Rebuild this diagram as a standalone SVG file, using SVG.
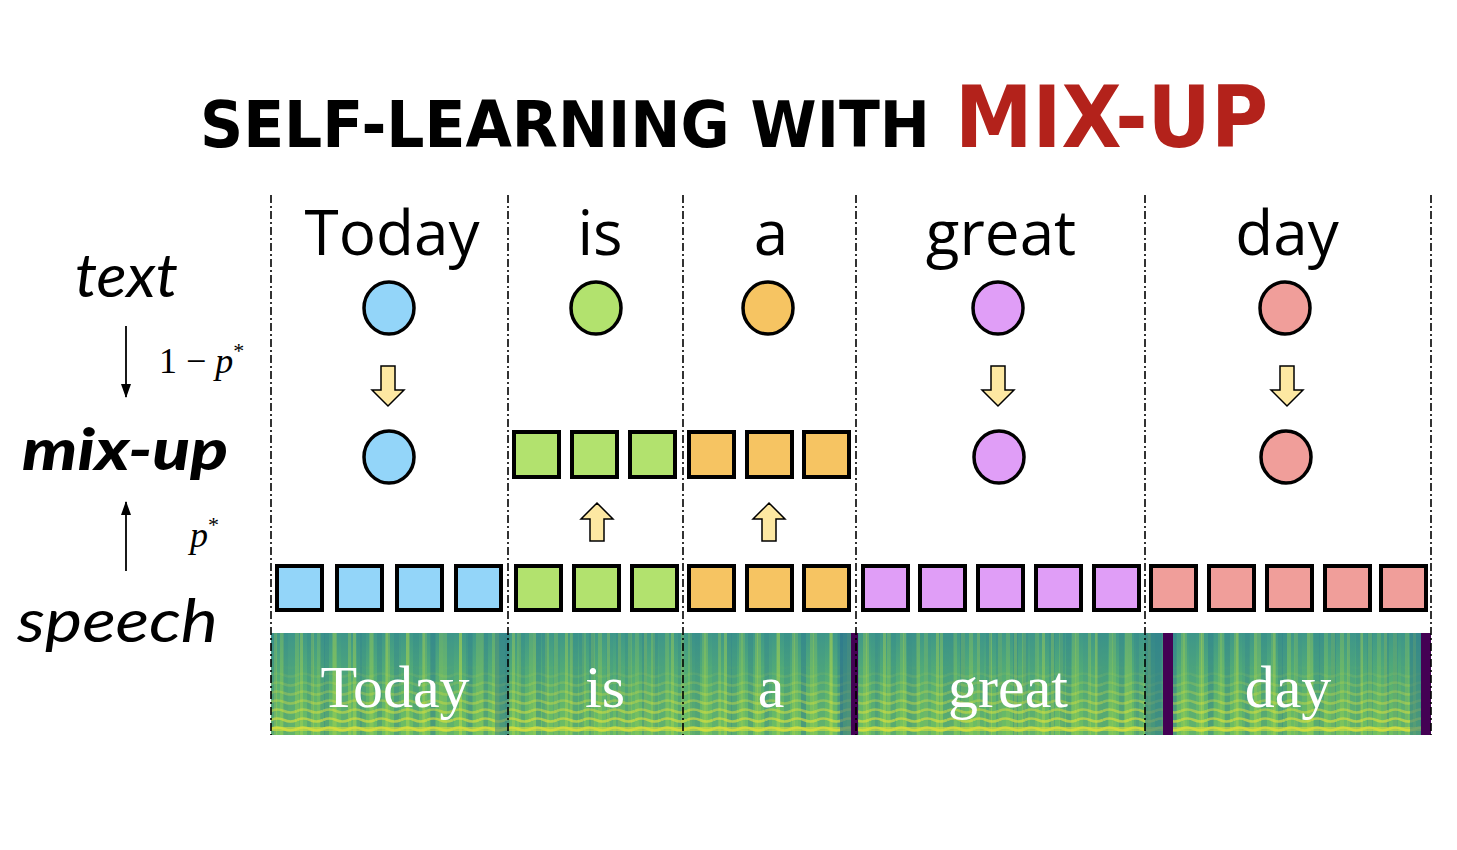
<svg xmlns="http://www.w3.org/2000/svg" width="1457" height="850" viewBox="0 0 1457 850">
<style>
.title{font-family:"DejaVu Sans",sans-serif;font-weight:bold}
.lab{font-family:Lato,"Open Sans",sans-serif;font-style:italic}
.word{font-family:"Comic Sans MS","Open Sans",sans-serif;font-size:62px;fill:#000;text-anchor:middle}
.sw{font-family:"Liberation Serif",serif;font-size:60px;fill:#fff;text-anchor:middle}
.math{font-family:"Liberation Serif",serif;font-size:36px;fill:#000}
.div{stroke:#000;stroke-width:1.6;stroke-dasharray:8 3 2 3;fill:none}
.sq{stroke:#000;stroke-width:4}
.ci{stroke:#000;stroke-width:3.5}
.ya{fill:#FDE8A2;stroke:#000;stroke-width:1.5;stroke-linejoin:miter}
.b{fill:#93D5F9}.g{fill:#B2E26E}.o{fill:#F6C462}.p{fill:#E09EF7}.r{fill:#F09E9A}
.ln{stroke:#000;stroke-width:1.8;fill:none}
</style>
<defs>
<marker id="ah" viewBox="0 0 14 10" refX="13" refY="5" markerWidth="14" markerHeight="10" markerUnits="userSpaceOnUse" orient="auto">
<path d="M0,0 L14,5 L0,10 Z" fill="#000"/>
</marker>
<linearGradient id="sbase" x1="0" y1="0" x2="0" y2="1">
<stop offset="0" stop-color="#3F9889"/>
<stop offset="0.45" stop-color="#55AE74"/>
<stop offset="1" stop-color="#72C060"/>
</linearGradient>
<pattern id="vs1" x="271" y="0" width="53" height="850" patternUnits="userSpaceOnUse">
<rect x="0" y="0" width="5" height="850" fill="#2E7F8D" opacity="0.35"/>
<rect x="9" y="0" width="4" height="850" fill="#A8D64A" opacity="0.3"/>
<rect x="17" y="0" width="7" height="850" fill="#3A8F8A" opacity="0.25"/>
<rect x="29" y="0" width="3" height="850" fill="#B9DB45" opacity="0.35"/>
<rect x="36" y="0" width="6" height="850" fill="#2F868C" opacity="0.3"/>
<rect x="46" y="0" width="4" height="850" fill="#9BD150" opacity="0.25"/>
</pattern>
<pattern id="vs2" x="271" y="0" width="37" height="850" patternUnits="userSpaceOnUse">
<rect x="3" y="0" width="3" height="850" fill="#C5DF3F" opacity="0.25"/>
<rect x="12" y="0" width="5" height="850" fill="#2C7A8E" opacity="0.25"/>
<rect x="24" y="0" width="4" height="850" fill="#A3D54C" opacity="0.25"/>
</pattern>
<pattern id="hb" x="271" y="633" width="26" height="9" patternUnits="userSpaceOnUse">
<path d="M0,6 Q6.5,3 13,6 T26,6" fill="none" stroke="#E2E33B" stroke-width="2.6"/>
</pattern>
<linearGradient id="fadeg" x1="0" y1="0" x2="0" y2="1">
<stop offset="0" stop-color="#fff" stop-opacity="0"/>
<stop offset="0.5" stop-color="#fff" stop-opacity="0.35"/>
<stop offset="1" stop-color="#fff" stop-opacity="0.8"/>
</linearGradient>
<mask id="fade" maskUnits="userSpaceOnUse" x="271" y="633" width="1160" height="102">
<rect x="271" y="665" width="1160" height="70" fill="url(#fadeg)"/>
</mask>
<clipPath id="sclip"><rect x="271" y="633" width="1160" height="102"/></clipPath>
</defs>
<rect width="1457" height="850" fill="#fff"/>

<g id="title">
<text class="title" x="200" y="147" font-size="64" textLength="730" lengthAdjust="spacingAndGlyphs" fill="#000">SELF-LEARNING WITH</text>
<text class="title" x="955" y="147" font-size="86" textLength="313" lengthAdjust="spacingAndGlyphs" fill="#B3221B">MIX-UP</text>
</g>

<g id="row-labels">
<text id="lbl-text" class="lab" x="75" y="297" font-size="60" textLength="103" lengthAdjust="spacingAndGlyphs">text</text>
<text id="lbl-mixup" class="lab" x="22" y="470" font-size="58" font-weight="900" textLength="206" lengthAdjust="spacingAndGlyphs">mix-up</text>
<text id="lbl-speech" class="lab" x="17" y="642" font-size="60" textLength="201" lengthAdjust="spacingAndGlyphs">speech</text>
<text id="lbl-1mp" class="math" x="159" y="373">1 − <tspan font-style="italic">p</tspan><tspan dy="-15" font-size="22">*</tspan></text>
<text id="lbl-p" class="math" x="190" y="547"><tspan font-style="italic">p</tspan><tspan dy="-15" font-size="22">*</tspan></text>
</g>

<g id="spectrogram">
<g clip-path="url(#sclip)">
<rect x="271" y="633" width="1160" height="102" fill="url(#sbase)"/>
<rect x="271" y="633" width="1160" height="102" fill="url(#vs1)"/>
<rect x="271" y="633" width="1160" height="102" fill="url(#vs2)"/>
<rect x="271" y="665" width="1160" height="70" fill="url(#hb)" mask="url(#fade)"/>
<rect x="271" y="727" width="1160" height="4" fill="#D8E03C" opacity="0.6"/>
<rect x="495" y="633" width="14" height="102" fill="#2E7A8C" opacity="0.45"/>
<rect x="840" y="633" width="11" height="102" fill="#2B6F8E" opacity="0.55"/>
<rect x="851" y="633" width="7" height="102" fill="#440154"/>
<rect x="1145" y="633" width="18" height="102" fill="#2E7D8C" opacity="0.6"/>
<rect x="1163" y="633" width="10" height="102" fill="#440154"/>
<rect x="1410" y="633" width="11" height="102" fill="#2E7A8C" opacity="0.55"/>
<rect x="1421" y="633" width="10" height="102" fill="#440154"/>
</g>
<text class="sw" x="395" y="707">Today</text>
<text class="sw" x="605" y="707">is</text>
<text class="sw" x="771" y="707">a</text>
<text class="sw" x="1008" y="707">great</text>
<text class="sw" x="1288" y="707">day</text>
</g>

<g id="connectors">
<line class="div" x1="271" y1="195" x2="271" y2="735"/>
<line class="div" x1="508" y1="195" x2="508" y2="735"/>
<line class="div" x1="683" y1="195" x2="683" y2="735"/>
<line class="div" x1="856" y1="195" x2="856" y2="735"/>
<line class="div" x1="1145" y1="195" x2="1145" y2="735"/>
<line class="div" x1="1431" y1="195" x2="1431" y2="735"/>
<line class="ln" x1="126" y1="326" x2="126" y2="397" marker-end="url(#ah)"/>
<line class="ln" x1="126" y1="571" x2="126" y2="502" marker-end="url(#ah)"/>
<path class="ya" d="M381,366 H395 V390 H404 L388,406 L372,390 H381 Z"/>
<path class="ya" d="M991,366 H1005 V390 H1014 L998,406 L982,390 H991 Z"/>
<path class="ya" d="M1280,366 H1294 V390 H1303 L1287,406 L1271,390 H1280 Z"/>
<path class="ya" d="M597,503 L613,519 H604 V541 H590 V519 H581 Z"/>
<path class="ya" d="M769,503 L785,519 H776 V541 H762 V519 H753 Z"/>
</g>

<g id="words">
<text class="word" x="392" y="255">Today</text>
<text class="word" x="600" y="255">is</text>
<text class="word" x="771" y="255">a</text>
<text class="word" x="1001" y="255">great</text>
<text class="word" x="1287" y="255">day</text>
</g>

<g id="text-tokens">
<ellipse class="ci b" cx="389" cy="308" rx="25" ry="26"/>
<ellipse class="ci g" cx="596" cy="308" rx="25" ry="26"/>
<ellipse class="ci o" cx="768" cy="308" rx="25" ry="26"/>
<ellipse class="ci p" cx="998" cy="308" rx="25" ry="26"/>
<ellipse class="ci r" cx="1285" cy="308" rx="25" ry="26"/>
</g>

<g id="mixup-tokens">
<ellipse class="ci b" cx="389" cy="457" rx="25" ry="26"/>
<rect class="sq g" x="514" y="432" width="45" height="45"/>
<rect class="sq g" x="572" y="432" width="45" height="45"/>
<rect class="sq g" x="630" y="432" width="45" height="45"/>
<rect class="sq o" x="689" y="432" width="45" height="45"/>
<rect class="sq o" x="747" y="432" width="45" height="45"/>
<rect class="sq o" x="804" y="432" width="45" height="45"/>
<ellipse class="ci p" cx="999" cy="457" rx="25" ry="26"/>
<ellipse class="ci r" cx="1286" cy="457" rx="25" ry="26"/>
</g>

<g id="speech-tokens">
<rect class="sq b" x="277" y="566" width="45" height="44"/>
<rect class="sq b" x="337" y="566" width="45" height="44"/>
<rect class="sq b" x="397" y="566" width="45" height="44"/>
<rect class="sq b" x="456" y="566" width="45" height="44"/>
<rect class="sq g" x="516" y="566" width="45" height="44"/>
<rect class="sq g" x="574" y="566" width="45" height="44"/>
<rect class="sq g" x="632" y="566" width="45" height="44"/>
<rect class="sq o" x="689" y="566" width="45" height="44"/>
<rect class="sq o" x="747" y="566" width="45" height="44"/>
<rect class="sq o" x="804" y="566" width="45" height="44"/>
<rect class="sq p" x="863" y="566" width="45" height="44"/>
<rect class="sq p" x="920" y="566" width="45" height="44"/>
<rect class="sq p" x="978" y="566" width="45" height="44"/>
<rect class="sq p" x="1036" y="566" width="45" height="44"/>
<rect class="sq p" x="1094" y="566" width="45" height="44"/>
<rect class="sq r" x="1151" y="566" width="45" height="44"/>
<rect class="sq r" x="1209" y="566" width="45" height="44"/>
<rect class="sq r" x="1267" y="566" width="45" height="44"/>
<rect class="sq r" x="1325" y="566" width="45" height="44"/>
<rect class="sq r" x="1381" y="566" width="45" height="44"/>
</g>
</svg>
